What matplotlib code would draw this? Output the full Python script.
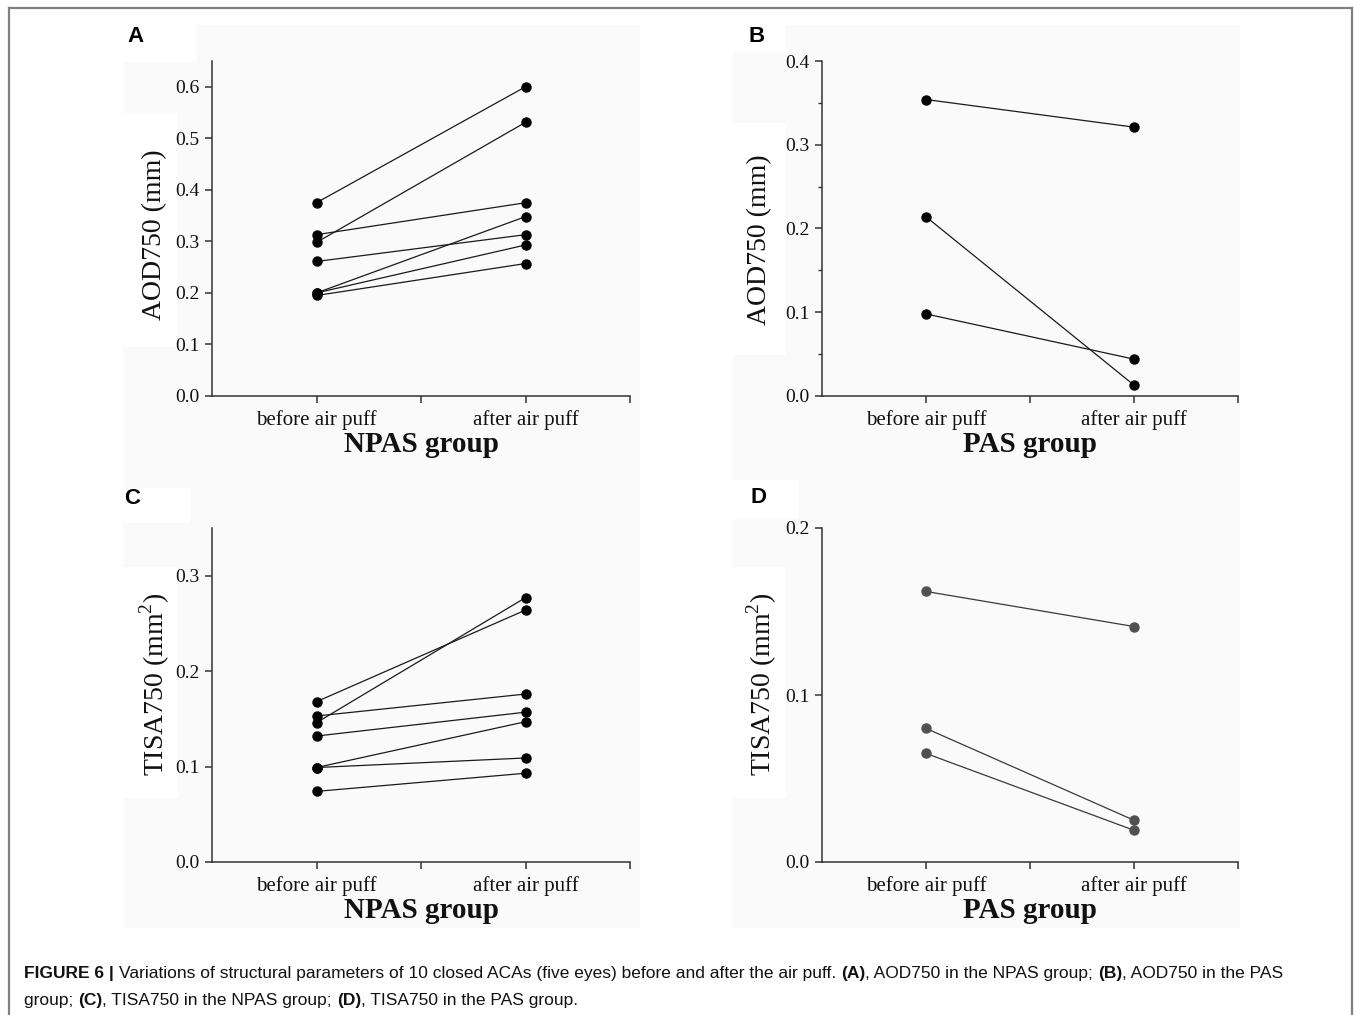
import matplotlib
matplotlib.use("Agg")
import matplotlib.pyplot as plt
from matplotlib.patches import Rectangle
from matplotlib.lines import Line2D
from matplotlib.ticker import MultipleLocator, FixedLocator

W, H = 1355, 1015
DPI = 100

# ---------------- data ----------------
categories = ["before air puff", "after air puff"]

# Panel A: AOD750 (mm), NPAS group
a_before = [0.375, 0.298, 0.313, 0.261, 0.200, 0.200, 0.195]
a_after = [0.600, 0.531, 0.375, 0.313, 0.348, 0.293, 0.257]

# Panel B: AOD750 (mm), PAS group
b_before = [0.354, 0.214, 0.098]
b_after = [0.321, 0.013, 0.044]

# Panel C: TISA750 (mm^2), NPAS group
c_before = [0.168, 0.146, 0.153, 0.132, 0.099, 0.099, 0.074]
c_after = [0.264, 0.277, 0.176, 0.157, 0.147, 0.109, 0.093]

# Panel D: TISA750 (mm^2), PAS group
d_before = [0.162, 0.080, 0.065]
d_after = [0.141, 0.025, 0.019]

a_ticks = [0.0, 0.1, 0.2, 0.3, 0.4, 0.5, 0.6]
b_ticks = [0.0, 0.1, 0.2, 0.3, 0.4]
c_ticks = [0.0, 0.1, 0.2, 0.3]
d_ticks = [0.0, 0.1, 0.2]

caption_line1 = [("FIGURE 6 | ", "bold"),
                 ("Variations of structural parameters of 10 closed ACAs (five eyes) before and after the air puff. ", "normal"),
                 ("(A)", "bold"), (", AOD750 in the NPAS group; ", "normal"),
                 ("(B)", "bold"), (", AOD750 in the PAS", "normal")]
caption_line2 = [("group; ", "normal"), ("(C)", "bold"), (", TISA750 in the NPAS group; ", "normal"),
                 ("(D)", "bold"), (", TISA750 in the PAS group.", "normal")]

# ---------------- figure ----------------
plt.rcParams["font.family"] = ["Liberation Serif", "DejaVu Serif"]
plt.rcParams["mathtext.fontset"] = "custom"
plt.rcParams["mathtext.rm"] = "Liberation Serif"

fig = plt.figure(figsize=(W / DPI, H / DPI), dpi=DPI)
fig.patch.set_facecolor("white")

def px_rect(x0, y0, x1, y1, color, z):
    r = Rectangle((x0 / W, 1 - y1 / H), (x1 - x0) / W, (y1 - y0) / H,
                  transform=fig.transFigure, facecolor=color, edgecolor="none", zorder=z)
    fig.patches.append(r)

GRAY = "#fafafa"
# light gray panel backgrounds
px_rect(123, 25, 640, 928, GRAY, -10)
px_rect(733, 25, 1240, 928, GRAY, -10)
# white boxes behind panel letters / y labels
px_rect(123, 25, 197, 62, "white", -9)
px_rect(123, 113, 177, 347, "white", -9)
px_rect(733, 25, 786, 52, "white", -9)
px_rect(733, 123, 786, 355, "white", -9)
px_rect(123, 488, 190, 523, "white", -9)
px_rect(123, 567, 178, 798, "white", -9)
px_rect(733, 480, 798, 519, "white", -9)
px_rect(733, 567, 786, 798, "white", -9)

# outer frame
fc = "#808080"
for (x0, y0, x1, y1) in [(9, 8, 1352, 8), (9, 8, 9, 1015), (1352, 8, 1352, 1015)]:
    fig.add_artist(Line2D([x0 / W, x1 / W], [1 - y0 / H, 1 - y1 / H], transform=fig.transFigure,
                          color=fc, lw=1.6))

def make_axes(x0, x1, ytop, ybot):
    return fig.add_axes([x0 / W, 1 - ybot / H, (x1 - x0) / W, (ybot - ytop) / H])

panels = [
    dict(box=(212, 630, 61, 396), before=a_before, after=a_after, ylim=0.65, ticks=a_ticks,
         minor=None, ylabel="AOD750 (mm)", xlabel="NPAS group", col="black", lcol="#1a1a1a",
         ylab_px=(155, 235), letter="A", let_px=(135, 36)),
    dict(box=(822, 1238, 61, 396), before=b_before, after=b_after, ylim=0.4, ticks=b_ticks,
         minor=0.05, ylabel="AOD750 (mm)", xlabel="PAS group", col="black", lcol="#1a1a1a",
         ylab_px=(760, 240), letter="B", let_px=(757, 37)),
    dict(box=(212, 630, 528, 862), before=c_before, after=c_after, ylim=0.35, ticks=c_ticks,
         minor=None, ylabel="TISA750 (mm$^2$)", xlabel="NPAS group", col="black", lcol="#1a1a1a",
         ylab_px=(155, 684), letter="C", let_px=(132, 499)),
    dict(box=(822, 1238, 528, 862), before=d_before, after=d_after, ylim=0.2, ticks=d_ticks,
         minor=None, ylabel="TISA750 (mm$^2$)", xlabel="PAS group", col="#505050", lcol="#3a3a3a",
         ylab_px=(762, 684), letter="D", let_px=(758, 498)),
]

for p in panels:
    x0, x1, yt, yb = p["box"]
    ax = make_axes(x0, x1, yt, yb)
    ax.patch.set_alpha(0)
    for b, a in zip(p["before"], p["after"]):
        ax.plot([0, 1], [b, a], color=p["lcol"], lw=0.9, marker="o", ms=6.5,
                mfc=p["col"], mec=p["col"], zorder=3, clip_on=False)
    ax.set_xlim(-0.5, 1.5)
    ax.set_ylim(0, p["ylim"])
    ax.spines["top"].set_visible(False)
    ax.spines["right"].set_visible(False)
    for s in ("left", "bottom"):
        ax.spines[s].set_linewidth(1.1)
        ax.spines[s].set_color("#333333")
    ax.xaxis.set_major_locator(FixedLocator([0, 0.5, 1, 1.5]))
    ax.set_xticklabels([categories[0], "", categories[1], ""], fontsize=15)
    ax.yaxis.set_major_locator(FixedLocator(p["ticks"]))
    ax.set_yticklabels([f"{t:.1f}" for t in p["ticks"]], fontsize=14)
    if p["minor"]:
        ax.yaxis.set_minor_locator(MultipleLocator(p["minor"]))
        ax.tick_params(axis="y", which="minor", length=3, width=1, color="#333333")
    ax.tick_params(axis="both", which="major", direction="out", length=5, width=1.1,
                   color="#333333", pad=4, labelcolor="#111111")
    ax.tick_params(axis="x", which="major", pad=5)
    ax.set_xlabel(p["xlabel"], fontsize=21, fontweight="bold", labelpad=1, color="#111111")
    ax.set_ylabel(p["ylabel"], fontsize=20, color="#111111", va="center", ha="center")
    lx, ly = p["ylab_px"]
    ax.yaxis.set_label_coords((lx - x0) / (x1 - x0), (yb - ly) / (yb - yt))
    fig.text(p["let_px"][0] / W, 1 - p["let_px"][1] / H, p["letter"], family="Liberation Sans",
             fontsize=16, fontweight="bold", ha="center", va="center", color="black")

# caption with mixed bold/normal segments
renderer = fig.canvas.get_renderer()

def draw_line(pieces, x_px, base_px):
    x = x_px
    for txt, wt in pieces:
        t = fig.text(x / W, 1 - base_px / H, txt, family="Liberation Sans", fontsize=12.5,
                     fontweight=wt, ha="left", va="baseline", color="#111111")
        bb = t.get_window_extent(renderer=renderer)
        x += bb.width

draw_line(caption_line1, 24, 978)
draw_line(caption_line2, 24, 1005)

fig.savefig("out.png", dpi=DPI, facecolor="white")
